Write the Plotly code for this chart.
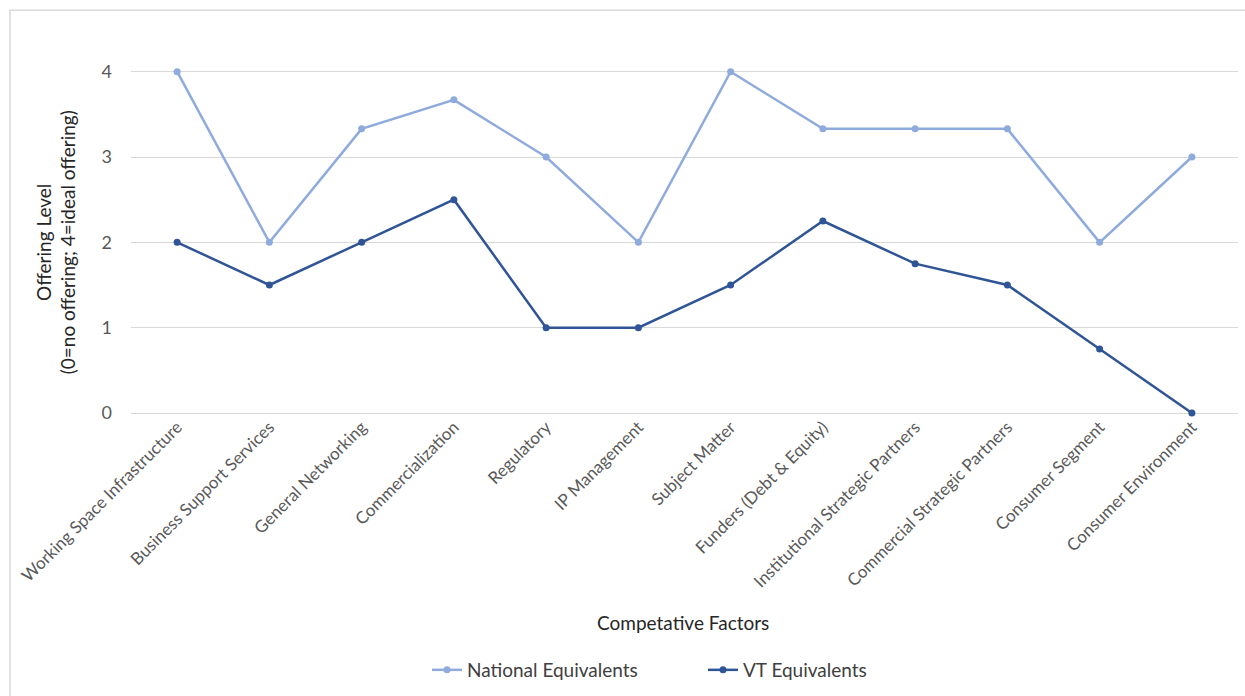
import plotly.graph_objects as go

categories = ["Working Space Infrastructure", "Business Support Services", "General Networking",
              "Commercialization", "Regulatory", "IP Management", "Subject Matter",
              "Funders (Debt & Equity)", "Institutional Strategic Partners",
              "Commercial Strategic Partners", "Consumer Segment", "Consumer Environment"]
national = [4, 2, 3.33, 3.67, 3, 2, 4, 3.33, 3.33, 3.33, 2, 3]
vt = [2, 1.5, 2, 2.5, 1, 1, 1.5, 2.25, 1.75, 1.5, 0.75, 0]

FONT = "Lato"
W, H = 1245, 696
L, R, T, B = 131, 7, 29, 280
ph = H - T - B

def py(pix):
    return (H - B - pix) / ph

def px(pix):
    return (pix - L) / (W - L - R)

fig = go.Figure()
fig.add_trace(go.Scatter(x=categories, y=national, name="National Equivalents",
                         mode="lines+markers", line=dict(color="#8FAADC", width=2.5),
                         marker=dict(size=7, color="#8FAADC"), cliponaxis=False))
fig.add_trace(go.Scatter(x=categories, y=vt, name="VT Equivalents",
                         mode="lines+markers", line=dict(color="#2F5597", width=2.5),
                         marker=dict(size=7, color="#2F5597"), cliponaxis=False))

fig.update_layout(
    width=W, height=H,
    margin=dict(l=L, r=R, t=T, b=B),
    paper_bgcolor="white", plot_bgcolor="white",
    font=dict(family=FONT, color="#595959"),
    showlegend=True,
    legend=dict(orientation="h", x=px(427), y=py(675), xanchor="left", yanchor="middle",
                font=dict(size=19, color="#404040", family=FONT), itemwidth=30,
                entrywidth=231),
    xaxis=dict(range=[-0.5, len(categories) - 0.5], tickangle=-45,
               tickfont=dict(size=17, color="#595959"), showgrid=False,
               showline=False, ticks="", ticklen=0),
    yaxis=dict(range=[0, 4.5], dtick=1, tick0=0, showgrid=True, gridcolor="#D9D9D9",
               gridwidth=1, zeroline=True, zerolinecolor="#D9D9D9", zerolinewidth=1,
               tickfont=dict(size=18, color="#595959"), ticks="", ticklabelstandoff=18),
    shapes=[dict(type="rect", xref="paper", yref="paper", x0=px(10), x1=px(1300),
                 y0=py(760), y1=py(10), line=dict(color="#D9D9D9", width=1.5),
                 fillcolor="rgba(0,0,0,0)", layer="below")],
    annotations=[
        dict(text="Competative Factors", xref="paper", yref="paper", x=px(683), y=py(627),
             xanchor="center", yanchor="middle", showarrow=False,
             font=dict(size=19, color="#262626", family=FONT)),
        dict(text="Offering Level<br>(0=no offering; 4=ideal offering)", xref="paper", yref="paper",
             x=px(56), y=py(244), xanchor="center", yanchor="middle", textangle=-90,
             showarrow=False, font=dict(size=19, color="#262626", family=FONT)),
    ],
)

fig.write_html("out.html")
